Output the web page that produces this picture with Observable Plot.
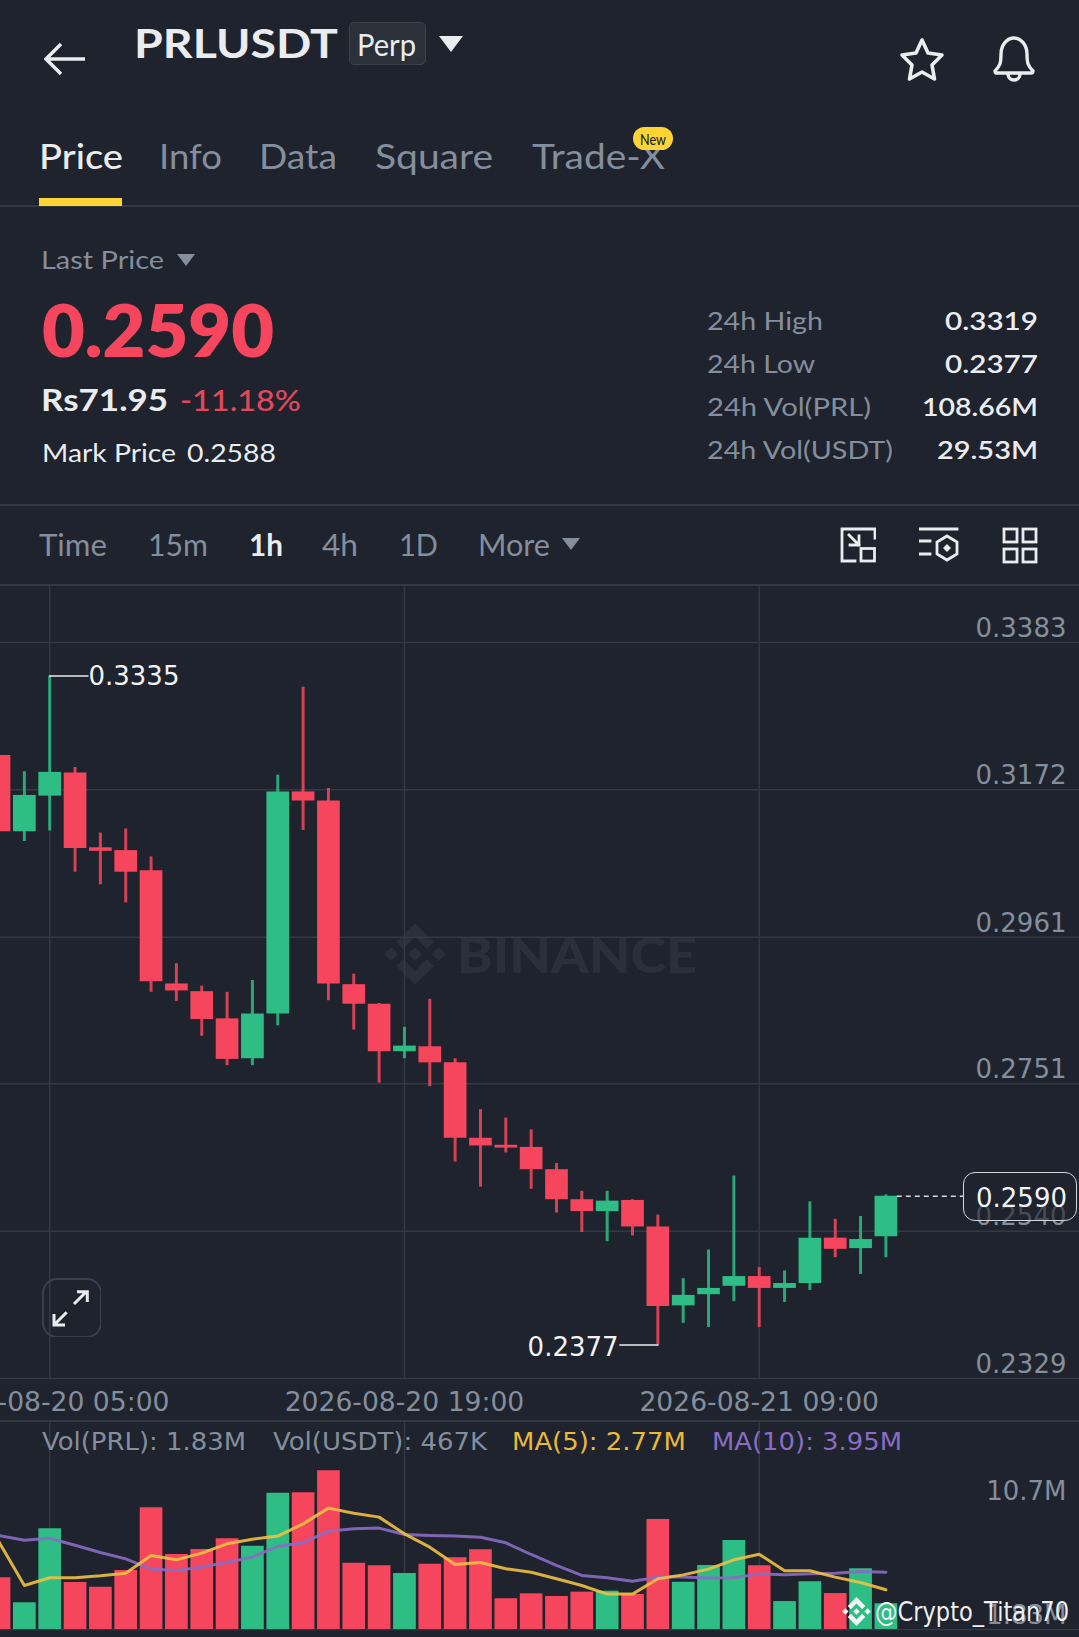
<!DOCTYPE html>
<html><head><meta charset="utf-8">
<script src="https://cdn.jsdelivr.net/npm/d3@7"></script>
<script src="https://cdn.jsdelivr.net/npm/@observablehq/plot@0.6"></script>
<style>
html,body{margin:0;padding:0;background:#1e232d;overflow:hidden}
#page{position:relative;width:1079px;height:1637px;overflow:hidden;background:#1e232d}
.t{position:absolute;white-space:pre;transform-origin:0 50%;line-height:1;font-family:Lato,"Noto Sans",sans-serif}
.abs{position:absolute}
.abs svg{display:block}
</style></head><body><div id="page"></div>
<script>
// ----- data -----
const firstHour = Date.UTC(2026, 7, 20, 3);
const open  = [.3221,.3112,.3163,.3196,.3089,.3085,.3056,.2894,.2883,.2844,.2787,.2851,.3169,.3156,.2893,.2865,.2797,.2804,.2781,.2673,.2663,.2660,.2628,.2585,.2568,.2584,.2546,.2433,.2449,.2461,.2475,.2458,.2465,.2530,.2515,.2532];
const close = [.3112,.3164,.3197,.3088,.3084,.3054,.2897,.2884,.2843,.2786,.2851,.3169,.3156,.2894,.2865,.2797,.2805,.2781,.2673,.2662,.2659,.2628,.2585,.2568,.2583,.2546,.2432,.2448,.2458,.2475,.2458,.2465,.2530,.2514,.2528,.2590];
const high  = [.3221,.3198,.3335,.3204,.3110,.3116,.3076,.2923,.2891,.2882,.2899,.3193,.3319,.3174,.2908,.2866,.2832,.2872,.2787,.2714,.2702,.2685,.2637,.2597,.2597,.2585,.2563,.2472,.2513,.2619,.2488,.2483,.2582,.2557,.2561,.2592];
const low   = [.3112,.3098,.3113,.3054,.3036,.3010,.2882,.2869,.2819,.2777,.2777,.2834,.3114,.2870,.2828,.2752,.2787,.2747,.2639,.2603,.2652,.2600,.2566,.2538,.2525,.2533,.2377,.2408,.2402,.2439,.2402,.2438,.2455,.2502,.2478,.2502];
const volume = [3.68,1.90,7.17,3.35,3.01,4.20,8.67,5.34,5.70,6.46,5.93,9.70,9.73,11.30,4.72,4.54,3.99,4.65,5.11,5.67,2.19,2.54,2.35,2.66,2.73,2.49,7.83,3.37,4.56,6.34,4.54,1.99,3.40,2.56,4.32,1.83];
const ma5  = [6.22,3.13,3.68,3.68,3.82,4.01,5.27,4.96,5.44,6.10,6.43,6.65,7.52,8.64,8.28,8.00,6.81,5.86,4.63,4.77,4.32,4.08,3.61,3.13,2.52,2.52,3.61,3.89,4.30,4.96,5.36,4.18,4.18,3.73,3.35,2.83];
const ma10 = [6.69,6.36,6.50,6.00,5.48,5.03,4.30,4.20,4.44,4.79,5.15,5.91,6.17,7.00,7.17,7.22,6.76,6.69,6.65,6.57,6.17,5.34,4.56,3.85,3.68,3.44,3.73,3.73,3.66,3.68,3.96,3.89,3.96,4.01,4.13,4.08];
const priceTicks = [.3383,.3172,.2961,.2751,.2540,.2329];
const dateTicks = [Date.UTC(2026,7,20,5),Date.UTC(2026,7,20,19),Date.UTC(2026,7,21,9)].map(d=>new Date(d));
const volTicks = [10.7,1.83];
const highMark=.3335, lowMark=.2377, lastPrice=.2590;

const UP="#2ebd85", DOWN="#f6465d", GRID="#333943", AXIS="#848e9c", BG="#1e232d";
const hr = (i)=>new Date(firstHour + i*3600e3);
const candles = open.map((o,i)=>({t:hr(i),open:o,close:close[i],high:high[i],low:low[i],vol:volume[i],ma5:ma5[i],ma10:ma10[i],c:close[i]>=o?UP:DOWN}));
// x domain shared by both panels (pixel 0 .. 1079)
const xDomain=[hr(2-1.9416),hr(2+40.64)];
const page=document.getElementById("page");
const FONT='"DejaVu Sans",sans-serif';

function place(el,top){const d=document.createElement("div");d.className="abs";d.style.left="0";d.style.top=top+"px";d.appendChild(el);page.appendChild(d);return d;}
function line(x,y,w,h,col){const d=document.createElement("div");d.className="abs";d.style.cssText+=`left:${x}px;top:${y}px;width:${w}px;height:${h}px;background:${col}`;page.appendChild(d);}
function txt(s,x,cy,size,weight,color,w,font){
  const d=document.createElement("div");d.className="t";d.textContent=s;
  if(font)d.style.fontFamily=font;
  d.style.fontSize=size+"px";d.style.fontWeight=weight;d.style.color=color;d.style.left=(font?x:x-1.5)+"px";d.style.top=(cy-size/2-(font?0:1.5))+"px";
  page.appendChild(d);
  if(w){const m=d.getBoundingClientRect().width;d.style.transform=`scaleX(${w/m})`;}
  return d;
}
function icon(x,y,w,h,vb,inner){const d=document.createElement("div");d.className="abs";d.style.cssText+=`left:${x}px;top:${y}px;width:${w}px;height:${h}px`;d.innerHTML=`<svg width="${w}" height="${h}" viewBox="${vb}" preserveAspectRatio="none" fill="none">${inner}</svg>`;page.appendChild(d);}
const LOGO='M38.73 53.2L64 27.93l25.28 25.28 14.7-14.7L64-1.48 24.03 38.5zM-1.47 64l14.7-14.7L27.93 64l-14.7 14.7zM38.73 74.8L64 100.07l25.28-25.28 14.71 14.69L64 129.47 24.03 89.5zM100.07 64l14.7-14.7 14.7 14.7-14.7 14.7zM78.9 64L64 49.1 49.13 63.97 64 78.87z';

// ----- chart watermark (below the plot) -----
icon(384,923,62,62,"-2 -2 132 132",`<path d="${LOGO}" fill="#2a303a"/>`);
txt("BINANCE",458,955,50,900,"#2a303a",240);

// ----- price panel -----
const pricePlot=Plot.plot({
  width:1079,height:835,marginLeft:0,marginRight:0,marginTop:0,marginBottom:42,
  style:{background:"transparent",fontFamily:FONT,fontSize:"26px"},
  x:{type:"utc",domain:xDomain,range:[0,1079]},
  y:{type:"linear",domain:[priceTicks[0],priceTicks[5]],range:[57,793]},
  marks:[
    Plot.ruleY(priceTicks,{stroke:GRID,strokeWidth:1.5}),
    Plot.ruleX(dateTicks,{stroke:GRID,strokeWidth:1.5}),
    Plot.ruleX(candles,{x:"t",y1:"low",y2:"high",stroke:"c",strokeWidth:3,strokeOpacity:.85}),
    Plot.ruleX(candles,{x:"t",y1:"open",y2:"close",stroke:"c",strokeWidth:22.7}),
    Plot.ruleY([highMark],{x1:()=>hr(2),x2:()=>hr(3.55),stroke:"#eaecef",strokeWidth:1.6}),
    Plot.ruleY([lowMark],{x1:()=>hr(26.05),x2:()=>hr(24.5),stroke:"#eaecef",strokeWidth:1.6}),
    Plot.ruleY([lastPrice],{x1:()=>hr(35.45),x2:()=>hr(38.08),stroke:"#d5d8dc",strokeWidth:1.5,strokeDasharray:"5 4"}),
    Plot.text([highMark],{x:()=>hr(3.53),y:d=>d,dy:1,text:d=>d3.format(".4f")(d),textAnchor:"start",fill:"#f2f3f5",fontSize:26}),
    Plot.text([lowMark],{x:()=>hr(24.45),y:d=>d,dy:3,text:d=>d3.format(".4f")(d),textAnchor:"end",fill:"#f2f3f5",fontSize:26}),
    Plot.axisY(priceTicks,{anchor:"right",tickSize:0,tickPadding:0,textAnchor:"end",dx:-13,dy:-14,tickFormat:d3.format(".4f"),fill:AXIS,label:null,fontSize:26}),
    Plot.axisX(dateTicks,{anchor:"bottom",tickSize:0,tickPadding:14,tickFormat:d3.utcFormat("%Y-%m-%d %H:%M"),fill:AXIS,label:null,fontSize:26.6})
  ]
});
place(pricePlot,585);

// ----- volume panel -----
const volPlot=Plot.plot({
  width:1079,height:217,marginLeft:0,marginRight:0,marginTop:0,marginBottom:8,
  style:{background:"transparent",fontFamily:FONT,fontSize:"26px"},
  x:{type:"utc",domain:xDomain,range:[0,1079],axis:null},
  y:{type:"linear",domain:[0,10.7],range:[209,58.7]},
  marks:[
    Plot.ruleY([0],{stroke:GRID,strokeWidth:1.5}),
    Plot.ruleX(dateTicks,{stroke:GRID,strokeWidth:1.5}),
    Plot.ruleX(candles,{x:"t",y1:0,y2:"vol",stroke:"c",strokeWidth:22.7}),
    Plot.line(candles,{x:"t",y:"ma10",stroke:"#8a6cc4",strokeWidth:3,strokeOpacity:.9}),
    Plot.line(candles,{x:"t",y:"ma5",stroke:"#f0c044",strokeWidth:3,strokeOpacity:.9}),
    Plot.axisY(volTicks,{anchor:"right",tickSize:0,tickPadding:0,textAnchor:"end",dx:-13,dy:12,tickFormat:d=>d+"M",fill:AXIS,label:null,fontSize:26})
  ]
});
place(volPlot,1420);

// ----- frame lines -----
line(0,205,1079,1.5,GRID);line(0,504,1079,1.5,GRID);line(0,584,1079,1.5,GRID);line(0,1420,1079,1.5,GRID);

// ----- header text -----
const W="#eaecef",G="#848e9c";
txt("PRLUSDT",135,44,41,700,W,204);
const badge=document.createElement("div");badge.className="abs";badge.style.cssText+="left:349px;top:22px;width:75px;height:41px;background:#2b3139;border:1px solid #3a414b;border-radius:5px";page.appendChild(badge);
txt("Perp",358,45,30,400,W,59);
icon(439,36,24,16,"0 0 24 16",`<path d="M0 0H24L12 16Z" fill="#eaecef"/>`);
icon(44,42,43,34,"0 0 43 34",`<path d="M41 17H3M17 2L2 17L17 32" stroke="#eaecef" stroke-width="3.4"/>`);
icon(898,36,48,47,"0 0 48 47",`<path d="M24 4L30 17L44 19L34 29L36.500 43L24 36L11.500 43L14 29L4 19L18 17Z" stroke="#eaecef" stroke-width="3.6" stroke-linejoin="round"/>`);
icon(990,35,48,48,"0 0 48 48",`<path d="M5 36C10 31 11 28 11 19C11 10 17 3 24 3C31 3 37 10 37 19C37 28 38 31 43 36C43 38 42 38 41 38H7C6 38 5 38 5 36Z" stroke="#eaecef" stroke-width="3.4"/><path d="M18 39C18 47 30 47 30 39" stroke="#eaecef" stroke-width="3.4"/>`);
txt("Price",40,157,34,500,W,84);
txt("Info",160,157,34,400,G,63);
txt("Data",260,157,34,400,G,78);
txt("Square",376,157,34,400,G,118);
txt("Trade-X",533,157,34,400,G,133);
const pill=document.createElement("div");pill.className="abs";pill.style.cssText+="left:633px;top:127px;width:40px;height:23px;background:#fcd535;border-radius:12px";page.appendChild(pill);
txt("New",641,141,15,500,"#1e2329",26);
line(39,198,83,8,"#fcd535");
txt("Last Price",42.500,261,25,400,G,123);
icon(177,254,18,12,"0 0 18 12",`<path d="M0 0H18L9 12Z" fill="#848e9c"/>`);
txt("0.2590",43,330.5,71,800,"#f6465d",232);
txt("Rs71.95",42.500,400,30,700,W,127);
txt("-11.18%",181,401,28,500,"#e0485d",121);
txt("Mark Price",43,454,25,400,W,134);
txt("0.2588",188,454,25,400,W,89);
const rows=[["24h High","0.3319",116,93],["24h Low","0.2377",108,93],["24h Vol(PRL)","108.66M",164,116],["24h Vol(USDT)","29.53M",186,101]];
rows.forEach((r,i)=>{const cy=[322,365,408,451][i];txt(r[0],708.5,cy,25,400,G,r[2]);txt(r[1],1039-r[3],cy,25,600,W,r[3]);});
txt("Time",40,545,30,400,G,68);
txt("15m",149,545,30,400,G,60);
txt("1h",250,545,30,700,W,34);
txt("4h",323,545,30,400,G,36);
txt("1D",400,545,30,400,G,39);
txt("More",479,545,30,400,G,72);
icon(562,538,18,12,"0 0 18 12",`<path d="M0 0H18L9 12Z" fill="#848e9c"/>`);
const IC='stroke="#eaecef" stroke-width="2.800" stroke-linecap="square"';
icon(840,527,36,36,"0 0 36 36",`<path d="M35 11V2H2V34H15" ${IC}/><rect x="21" y="21.500" width="13.500" height="12.500" ${IC}/><path d="M9 8L19 18M19 9V18H10" ${IC}/>`);
icon(919,527,40,38,"0 0 40 38",`<path d="M1 2H38M1 14H11M1 27H11" ${IC}/><path d="M28 9L38 15V27L28 33L18 27V15Z" ${IC}/><path d="M28 17L32 21L28 25L24 21Z" fill="#eaecef"/>`);
icon(1002,527,36,37,"0 0 36 37",`<g ${IC}><rect x="2" y="2" width="13" height="13"/><rect x="21" y="2" width="13" height="13"/><rect x="2" y="22" width="13" height="13"/><rect x="21" y="22" width="13" height="13"/></g>`);

// ----- last-price tag and expand button -----
const tag=document.createElement("div");tag.className="abs";tag.style.cssText+="left:963px;top:1172px;width:112px;height:47px;border:1.6px solid #d5d8dc;border-radius:12px;background:rgba(30,35,45,.62)";page.appendChild(tag);
txt(d3.format(".4f")(lastPrice),976,1198,26,400,"#f2f3f5",null,FONT);
icon(41,1277,60,60,"0 0 60 60",`<rect x="2" y="2" width="58" height="58" rx="14" stroke="#3a414b" stroke-width="2"/><path d="M33 27L45 15M36 14.700H46.300V25M25.700 35.300L14 47M13 37V48H24" stroke="#eaecef" stroke-width="3"/>`);

// ----- volume legend -----
function leg(s,x,w,c){txt(s,x,1441,25,400,c,w,FONT);}
leg("Vol(PRL): 1.83M",42,204,G);leg("Vol(USDT): 467K",273,214,G);leg("MA(5): 2.77M",512,174,"#e8b93c");leg("MA(10): 3.95M",712,190,"#8a6cc4");

// ----- author mark -----
icon(842,1597,29,29,"-2 -2 132 132",`<path d="${LOGO}" fill="#f2f3f5"/>`);
txt("@Crypto_Titan70",875,1611,27,400,"#eef0f2",194,FONT);
</script></body></html>
